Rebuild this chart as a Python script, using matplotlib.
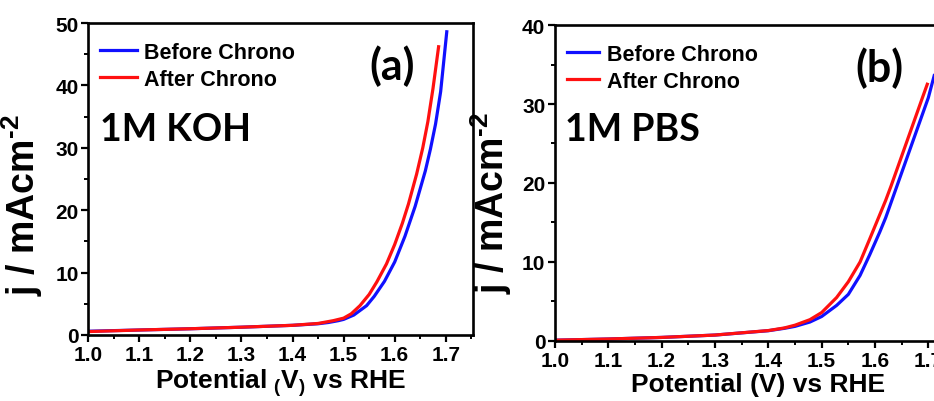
import matplotlib
matplotlib.use("Agg")
import matplotlib.pyplot as plt
from matplotlib.ticker import MultipleLocator

# LSV curves (potential in V vs RHE, current density in mA/cm2)
koh_before_v = [1.00, 1.10, 1.20, 1.30, 1.40, 1.45, 1.47, 1.49, 1.50, 1.52, 1.545,
                1.56, 1.58, 1.60, 1.62, 1.64, 1.66, 1.67, 1.68, 1.69, 1.702]
koh_before_j = [0.6, 0.8, 1.0, 1.25, 1.55, 1.8, 2.0, 2.3, 2.5, 3.2, 4.7,
                6.2, 8.6, 11.7, 15.8, 20.6, 26.3, 29.8, 33.8, 39.0, 48.6]
koh_after_v = [1.00, 1.10, 1.20, 1.30, 1.40, 1.45, 1.48, 1.50, 1.515, 1.532, 1.55,
               1.565, 1.584, 1.60, 1.615, 1.627, 1.643, 1.655, 1.665, 1.675, 1.686]
koh_after_j = [0.55, 0.8, 1.0, 1.25, 1.55, 1.85, 2.3, 2.7, 3.4, 4.7, 6.5,
               8.5, 11.4, 14.5, 17.9, 21.0, 25.8, 30.0, 34.2, 39.5, 46.2]

pbs_before_v = [1.00, 1.10, 1.20, 1.30, 1.40, 1.43, 1.45, 1.478, 1.50, 1.528, 1.55,
                1.572, 1.59, 1.609, 1.62, 1.63, 1.64, 1.65, 1.66, 1.67, 1.68,
                1.69, 1.70, 1.711]
pbs_before_j = [0.1, 0.25, 0.45, 0.75, 1.3, 1.6, 1.85, 2.4, 3.1, 4.5, 5.9,
                8.3, 10.9, 13.8, 15.6, 17.5, 19.4, 21.3, 23.2, 25.1, 27.0,
                28.9, 30.8, 33.6]
pbs_after_v = [1.00, 1.10, 1.20, 1.30, 1.40, 1.43, 1.45, 1.478, 1.50, 1.528, 1.55,
               1.572, 1.59, 1.609, 1.62, 1.63, 1.64, 1.65, 1.66, 1.67, 1.68,
               1.69, 1.698]
pbs_after_j = [0.1, 0.25, 0.45, 0.75, 1.32, 1.65, 2.0, 2.7, 3.6, 5.5, 7.5,
               10.0, 12.9, 16.0, 17.8, 19.6, 21.5, 23.4, 25.3, 27.2, 29.1,
               31.0, 32.5]

plt.rcParams['font.family'] = ['Liberation Sans', 'DejaVu Sans']
plt.rcParams['font.weight'] = 'bold'
plt.rcParams['mathtext.fontset'] = 'custom'
plt.rcParams['mathtext.rm'] = 'Liberation Sans:bold'
plt.rcParams['mathtext.bf'] = 'Liberation Sans:bold'
plt.rcParams['mathtext.default'] = 'bf'

fig = plt.figure(figsize=(9.34, 4.02), dpi=100)
ax1 = fig.add_axes([0.0945, 0.1642, 0.412, 0.776])
ax2 = fig.add_axes([0.5942, 0.1493, 0.434, 0.786])

ylab = r"j / mAcm$^{\text{-2}}$"


def style_axes(ax, ymax, xmax):
    ax.set_xlim(1.0, xmax)
    ax.set_ylim(0, ymax)
    ax.xaxis.set_major_locator(MultipleLocator(0.1))
    ax.xaxis.set_minor_locator(MultipleLocator(0.05))
    ax.yaxis.set_major_locator(MultipleLocator(10))
    ax.yaxis.set_minor_locator(MultipleLocator(5))
    ax.xaxis.set_major_formatter(plt.FuncFormatter(lambda v, p: f"{v:.1f}"))
    for s in ax.spines.values():
        s.set_linewidth(1.9)
    ax.tick_params(which='major', direction='out', length=5, width=1.6,
                   labelsize=15, pad=2)
    ax.tick_params(which='minor', direction='out', length=3, width=1.4)
    ax.tick_params(top=False, right=False, which='both')
    for lab in ax.get_xticklabels() + ax.get_yticklabels():
        lab.set_fontweight('bold')


# (a) 1M KOH
ax1.plot(koh_before_v, koh_before_j, color='#1010ff', lw=2.3, label='Before Chrono')
ax1.plot(koh_after_v, koh_after_j, color='#ff1010', lw=2.3, label='After Chrono')
style_axes(ax1, 50, 1.7535)
ax1.set_xlabel(r"Potential $_{(}$V$_{)}$ vs RHE", fontsize=19, fontweight='bold', labelpad=2)
ax1.set_ylabel(ylab, fontsize=27, fontweight='bold')
ax1.yaxis.set_label_coords(-0.112, 0.42)
ax1.legend(loc='upper left', bbox_to_anchor=(0.031, 0.94), frameon=False,
           handlelength=1.7, handletextpad=0.35, labelspacing=0.28, borderpad=0,
           borderaxespad=0, prop={'weight': 'bold', 'size': 15.5})
ax1.text(0.03, 0.66, "1M KOH", transform=ax1.transAxes, fontsize=27,
         fontweight='bold', family=['Lato', 'DejaVu Sans'], va='center')
ax1.text(0.79, 0.865, "(a)", transform=ax1.transAxes, fontsize=31,
         fontweight='bold', family=['Lato', 'DejaVu Sans'], ha='center', va='center')

# (b) 1M PBS
ax2.plot(pbs_before_v, pbs_before_j, color='#1010ff', lw=2.3, label='Before Chrono')
ax2.plot(pbs_after_v, pbs_after_j, color='#ff1010', lw=2.3, label='After Chrono')
style_axes(ax2, 40, 1.76)
ax2.set_xlabel("Potential (V) vs RHE", fontsize=19, fontweight='bold', labelpad=2)
ax2.set_ylabel(ylab, fontsize=27, fontweight='bold')
ax2.yaxis.set_label_coords(-0.101, 0.44)
ax2.legend(loc='upper left', bbox_to_anchor=(0.029, 0.94), frameon=False,
           handlelength=1.5, handletextpad=0.35, labelspacing=0.28, borderpad=0,
           borderaxespad=0, prop={'weight': 'bold', 'size': 15.5})
ax2.text(0.025, 0.67, "1M PBS", transform=ax2.transAxes, fontsize=27,
         fontweight='bold', family=['Lato', 'DejaVu Sans'], va='center')
ax2.text(0.80, 0.865, "(b)", transform=ax2.transAxes, fontsize=31,
         fontweight='bold', family=['Lato', 'DejaVu Sans'], ha='center', va='center')

fig.savefig("out.png", dpi=100)
